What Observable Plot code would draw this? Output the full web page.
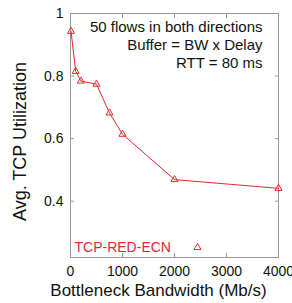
<!DOCTYPE html>
<html>
<head>
<meta charset="utf-8">
<script src="https://cdn.jsdelivr.net/npm/d3@7"></script>
<script src="https://cdn.jsdelivr.net/npm/@observablehq/plot@0.6"></script>
<style>
  html, body { margin: 0; padding: 0; background: #fff; }
  svg { font-family: "Liberation Sans", Arial, Helvetica, sans-serif; }
</style>
</head>
<body>
<div id="chart"></div>
<script>
const bandwidth = [10, 100, 200, 500, 750, 1000, 2000, 4000];
const utilization = [0.943, 0.815, 0.784, 0.774, 0.682, 0.614, 0.469, 0.441];
const seriesName = "TCP-RED-ECN";
const xTicks = [0, 1000, 2000, 3000, 4000];
const yTicks = [0.4, 0.6, 0.8, 1];
const yTickLabels = ["0.4", "0.6", "0.8", "1"];
const xLabel = "Bottleneck Bandwidth (Mb/s)";
const yLabel = "Avg. TCP Utilization";
const annotation = ["50 flows in both directions", "Buffer = BW x Delay", "RTT = 80 ms"];

const data = bandwidth.map((b, i) => ({b, u: utilization[i]}));
const red = "#e8262c";
const font = '"Liberation Sans", Arial, sans-serif';

const chart = Plot.plot({
  width: 292,
  height: 303,
  marginLeft: 70,
  marginRight: 14,
  marginTop: 13,
  marginBottom: 46,
  style: {fontFamily: font, fontSize: "14px", color: "#111", background: "#fff", overflow: "visible"},
  x: {domain: [0, 4000]},
  y: {domain: [0.22, 1]},
  marks: [
    Plot.frame({stroke: "#999"}),
    Plot.axisX({ticks: xTicks, tickSize: -4, stroke: "#999", tickPadding: 13, fontSize: 14, fill: "#111", tickFormat: d3.format("d"), label: null}),
    Plot.axisX({anchor: "top", ticks: xTicks, tickSize: -4, stroke: "#999", tickFormat: () => "", label: null}),
    Plot.axisY({ticks: yTicks, tickSize: -4, stroke: "#999", tickPadding: 11, fontSize: 14, fill: "#111", tickFormat: (d) => yTickLabels[yTicks.indexOf(d)], label: null}),
    Plot.axisY({anchor: "right", ticks: yTicks, tickSize: -4, stroke: "#999", tickFormat: () => "", label: null}),
    Plot.text([xLabel], {frameAnchor: "bottom", dy: 33, dx: -16, textAnchor: "middle", lineAnchor: "middle", fontSize: 17, fill: "#111"}),
    Plot.text([yLabel], {frameAnchor: "left", dx: -50, dy: 6, rotate: -90, textAnchor: "middle", lineAnchor: "middle", fontSize: 18, fill: "#111"}),
    Plot.line(data, {x: "b", y: "u", stroke: red, strokeWidth: 1}),
    Plot.dot(data, {x: "b", y: "u", symbol: "triangle", r: 2.6, stroke: red, fill: "none", strokeWidth: 1}),
    Plot.text([annotation.join("\n")], {frameAnchor: "top-right", dx: -16, dy: 5, textAnchor: "end", lineAnchor: "top", lineHeight: 1.23, fontSize: 15, fill: "#111"}),
    Plot.text([seriesName], {frameAnchor: "bottom-left", dx: 4, dy: -10, textAnchor: "start", lineAnchor: "middle", fontSize: 14, fill: red}),
    Plot.dot([seriesName], {frameAnchor: "bottom-left", dx: 127, dy: -10, symbol: "triangle", r: 2.6, stroke: red, fill: "none", strokeWidth: 1})
  ]
});
document.getElementById("chart").appendChild(chart);
</script>
</body>
</html>
